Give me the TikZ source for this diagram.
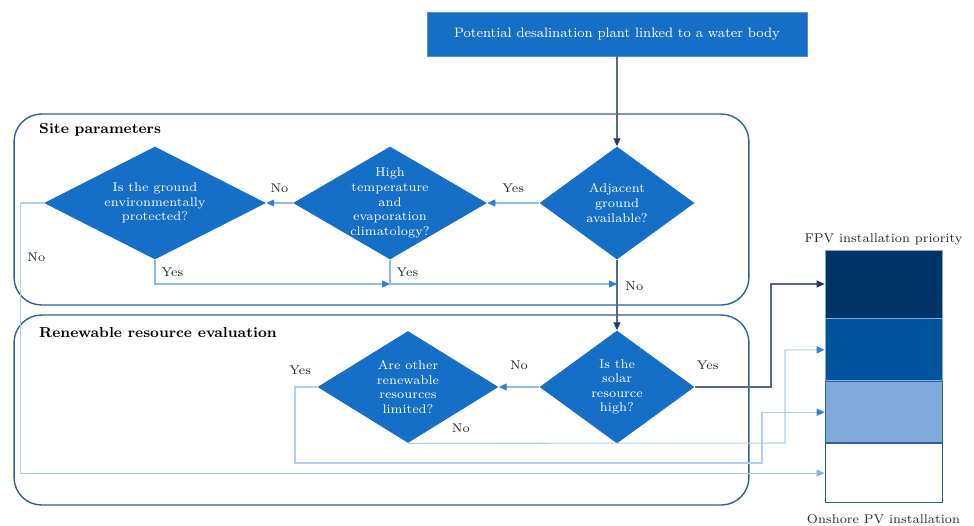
\documentclass[tikz,border=0pt]{standalone}
\usepackage{tikz}
\usetikzlibrary{positioning,shapes.geometric,arrows.meta}
\usepackage{xcolor}
\definecolor{diafill}{HTML}{156FC6}
\definecolor{topline}{HTML}{5B8FD0}
\definecolor{grpline}{HTML}{2F5F9E}
\definecolor{navyline}{HTML}{4F6B94}
\definecolor{navytip}{HTML}{1F3864}
\definecolor{flowline}{HTML}{8DB8E8}
\definecolor{flowtip}{HTML}{2E7FD6}
\definecolor{paleline}{HTML}{B2CEEE}
\definecolor{paletip}{HTML}{86B2E4}
\definecolor{bar1}{HTML}{003466}
\definecolor{bar2}{HTML}{00549C}
\definecolor{bar3}{HTML}{7FAADB}

\begin{document}
\begin{tikzpicture}[x=0.02cm, y=-0.02cm,
    decision/.style={diamond, fill=diafill, inner sep=0pt},
    dtext/.style={text=white, align=center, font=\fontsize{7.2}{8.3}\selectfont},
    group/.style={draw=grpline, line width=0.8pt, rounded corners=0.55cm,
                  minimum width=14.7cm},
    grouptitle/.style={font=\fontsize{8.2}{10}\selectfont\bfseries, anchor=west},
    answer/.style={font=\fontsize{7.2}{9}\selectfont, text=black!85, inner sep=1.5pt},
    bar/.style={minimum width=2.34cm, inner sep=0pt, line width=0.5pt},
    navyarrow/.style={draw=navyline, line width=0.6pt,
                      -{Triangle[length=4.5pt, width=4pt, color=navytip]}},
    flowarrow/.style={draw=flowline, line width=0.6pt,
                      -{Triangle[length=4.5pt, width=4pt, color=flowtip]}},
    palearrow/.style={draw=paleline, line width=0.6pt,
                      -{Triangle[length=4.5pt, width=4pt, color=flowtip]}},
    faintarrow/.style={draw=paleline, line width=0.6pt,
                       -{Triangle[length=4.5pt, width=4pt, color=paletip]}}]
  \useasboundingbox (0,0) rectangle (974,525);

  % groups
  \node[group, minimum height=3.82cm] (site) at (381.5,209.5) {};
  \node[grouptitle] at (33,130) {Site parameters};
  \node[group, minimum height=3.8cm] (renew) at (381.5,410) {};
  \node[grouptitle] at (33,333) {Renewable resource evaluation};

  % start
  \node[draw=topline, fill=diafill, text=white, minimum width=7.6cm,
        minimum height=0.88cm, font=\fontsize{7.8}{9}\selectfont] (plant) at (617,34)
    {Potential desalination plant linked to a water body};

  % decisions
  \node[decision, minimum width=3.1cm, minimum height=2.26cm,
        label={[dtext]center:Adjacent\\ground\\available?}] (d1) at (617,203) {};
  \node[decision, minimum width=3.88cm, minimum height=2.26cm,
        label={[dtext]center:High\\temperature\\and\\evaporation\\climatology?}] (d2) at (390,203) {};
  \node[decision, minimum width=4.44cm, minimum height=2.26cm,
        label={[dtext]center:Is the ground\\environmentally\\protected?}] (d3) at (155,203) {};
  \node[decision, minimum width=3.1cm, minimum height=2.26cm,
        label={[dtext]center:Is the\\solar\\resource\\high?}] (d4) at (617,387) {};
  \node[decision, minimum width=3.62cm, minimum height=2.24cm,
        label={[dtext]center:Are other\\renewable\\resources\\limited?}] (d5) at (408,387) {};

  % priority bars
  \node[bar, fill=bar1, draw=bar3, minimum height=1.36cm] (b1) at (883.5,284) {};
  \node[bar, fill=bar2, draw=bar3, minimum height=1.24cm, below=0pt of b1] (b2) {};
  \node[bar, fill=bar3, draw=grpline, minimum height=1.22cm, below=0pt of b2] (b3) {};
  \node[bar, fill=white, draw=grpline, minimum height=1.18cm, below=0pt of b3] (b4) {};
  \node[answer, above=1pt of b1] {FPV installation priority};
  \node[answer, below=5pt of b4] {Onshore PV installation};

  \coordinate (j1) at (617,284);
  \coordinate (j2) at (390,284);

  % connectors
  \draw[navyarrow] (plant) -- (d1);
  \draw[flowarrow] (d1) -- node[answer, above=4pt] {Yes} (d2);
  \draw[flowarrow] (d2) -- node[answer, above=4pt] {No} (d3);
  \draw[flowarrow] (d3.south) |- node[answer, pos=0.25, right=2pt] {Yes} (j2);
  \draw[flowarrow] (d2.south) |- node[answer, pos=0.25, right=2pt] {Yes} (j1);
  \draw[navyarrow] (d1) -- node[answer, pos=0.37, right=3pt] {No} (d4);
  \draw[faintarrow] (d3.west) -- ++(-23,0) |- node[answer, pos=0.1, right=2pt] {No} (b4.west);
  \draw[flowarrow] (d4) -- node[answer, above=8pt] {No} (d5);
  \draw[navyarrow] (d4) -- node[answer, pos=0.17, above=8pt] {Yes} (771,387) |- (b1.west);
  \draw[palearrow] (d5.south) -- node[answer, pos=0.14, above=4pt] {No} (785,443) |- (b2.west);
  \draw[palearrow] (d5.west) -- (295,387) node[answer, above=5pt, xshift=3pt] {Yes}
    |- (762,463) |- (b3.west);
\end{tikzpicture}
\end{document}
